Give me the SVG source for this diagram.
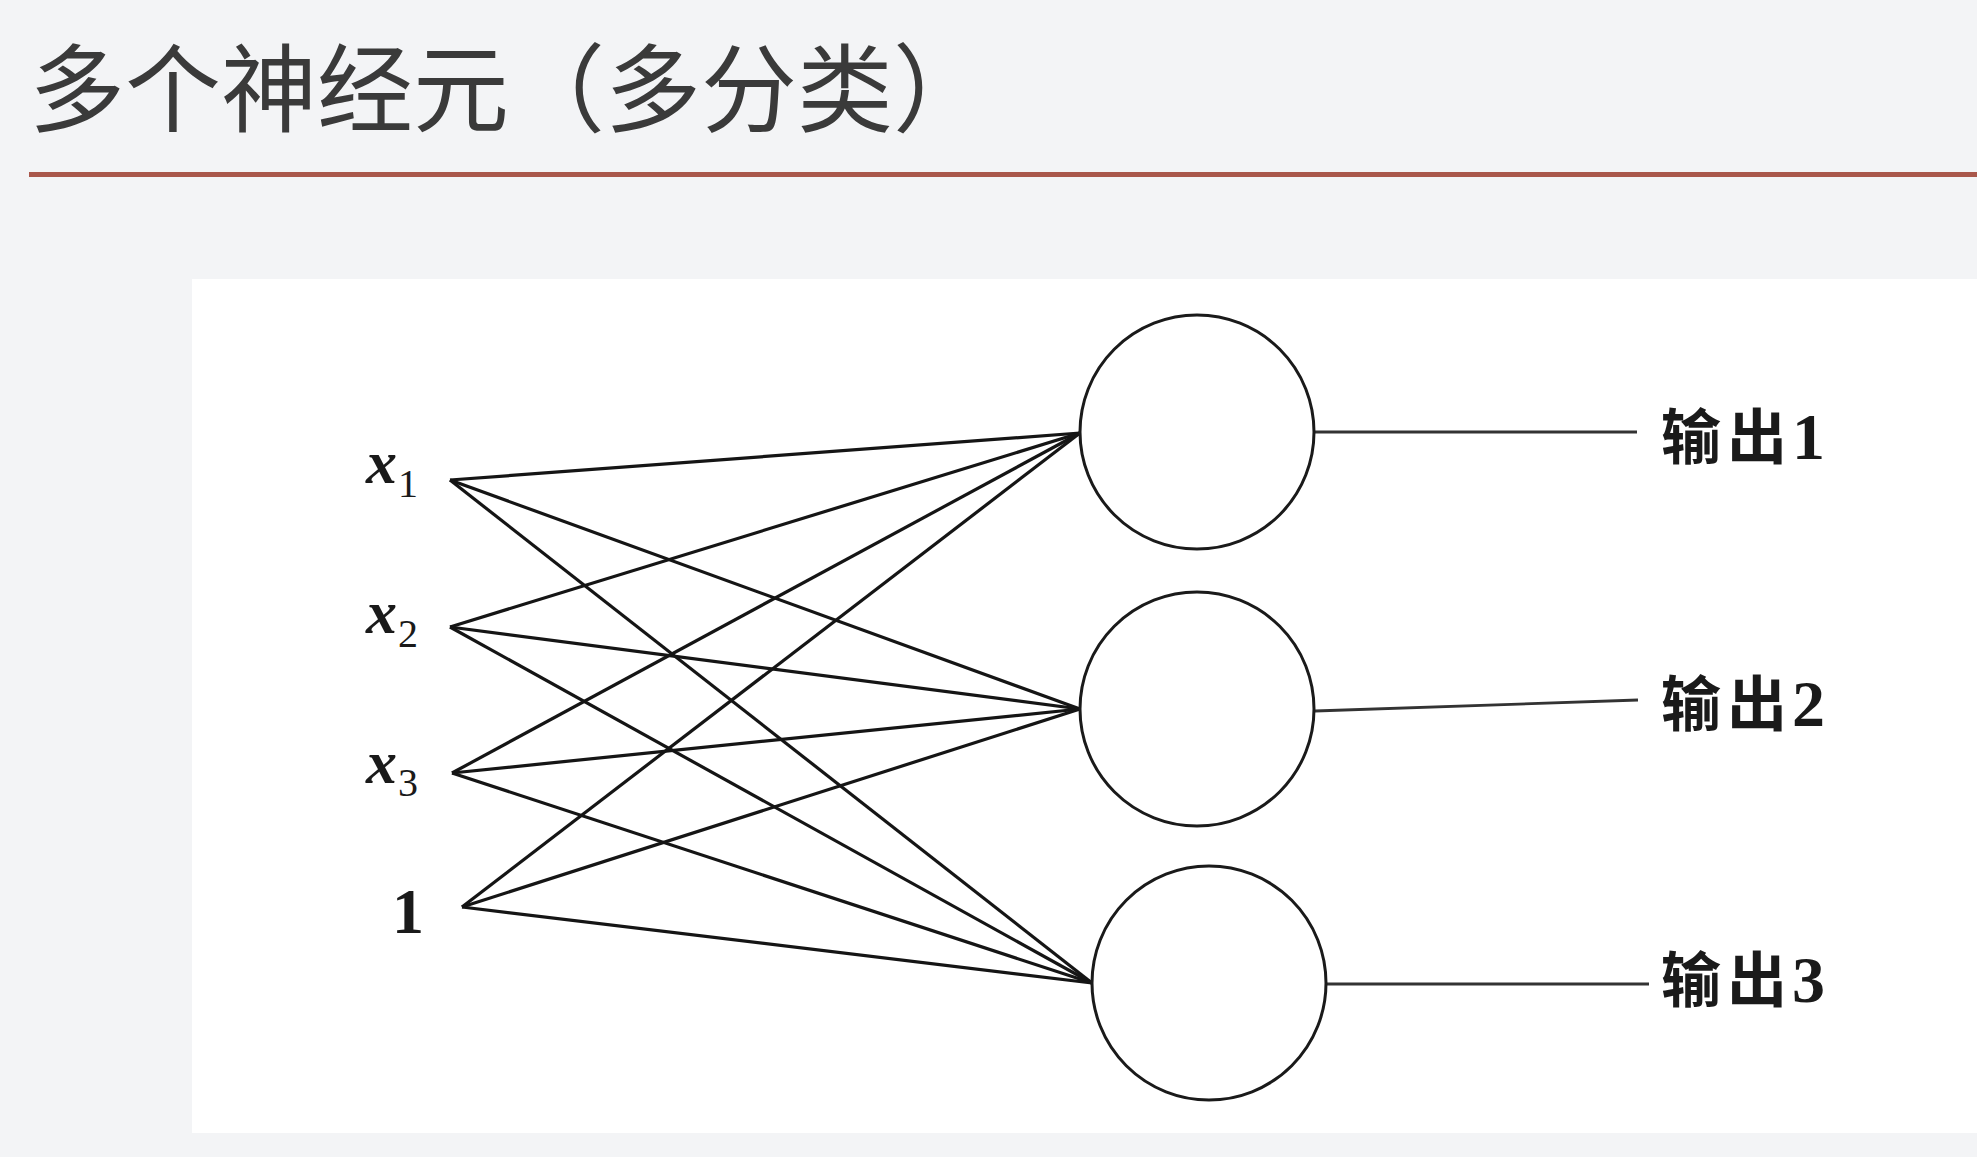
<svg xmlns="http://www.w3.org/2000/svg" width="1977" height="1157" viewBox="0 0 1977 1157">
<style>
.title{font-family:"Noto Sans CJK SC","Noto Sans",sans-serif;font-size:96px;fill:#3a3a3a}
.in{font-family:"Liberation Serif","Times New Roman",serif;fill:#1a1a1a}
.xi{font-size:62px;font-style:italic;font-weight:bold}
.sub{font-size:40px}
.out{font-family:"Liberation Serif","Noto Sans CJK SC",serif;font-size:66px;font-weight:bold;fill:#1a1a1a}
.cjk{font-family:"Noto Sans CJK SC",sans-serif;font-size:60px;font-weight:bold}
.node{fill:#fff;stroke:#1a1a1a;stroke-width:3}
.edge{stroke:#151515;stroke-width:3.2;fill:none}
.oline{stroke:#333;stroke-width:2.8;fill:none}
</style>
<rect x="0" y="0" width="1977" height="1157" fill="#f3f4f6"/>
<text class="title" x="29" y="124">多个神经元（多分类）</text>
<rect x="29" y="172" width="1948" height="5" fill="#a9574b"/>
<rect x="192" y="279" width="1785" height="854" fill="#ffffff"/>
<g id="connectors">
  <line class="edge" x1="450" y1="480" x2="1080" y2="433"/>
  <line class="edge" x1="450" y1="480" x2="1080" y2="709"/>
  <line class="edge" x1="450" y1="480" x2="1092" y2="983"/>
  <line class="edge" x1="450" y1="627" x2="1080" y2="433"/>
  <line class="edge" x1="450" y1="627" x2="1080" y2="709"/>
  <line class="edge" x1="450" y1="627" x2="1092" y2="983"/>
  <line class="edge" x1="452" y1="773" x2="1080" y2="433"/>
  <line class="edge" x1="452" y1="773" x2="1080" y2="709"/>
  <line class="edge" x1="452" y1="773" x2="1092" y2="983"/>
  <line class="edge" x1="462" y1="907" x2="1080" y2="433"/>
  <line class="edge" x1="462" y1="907" x2="1080" y2="709"/>
  <line class="edge" x1="462" y1="907" x2="1092" y2="983"/>
  <line class="oline" x1="1315" y1="432" x2="1637" y2="432"/>
  <line class="oline" x1="1315" y1="711" x2="1638" y2="700"/>
  <line class="oline" x1="1327" y1="984" x2="1649" y2="984"/>
</g>
<g id="in-x1"><text class="in" x="366" y="483"><tspan class="xi">x</tspan><tspan class="sub" x="398" y="497">1</tspan></text></g>
<g id="in-x2"><text class="in" x="366" y="633"><tspan class="xi">x</tspan><tspan class="sub" x="398" y="647">2</tspan></text></g>
<g id="in-x3"><text class="in" x="366" y="783"><tspan class="xi">x</tspan><tspan class="sub" x="398" y="796">3</tspan></text></g>
<g id="in-bias"><text class="in" x="392" y="933" font-size="64" font-weight="bold">1</text></g>
<g id="neuron-1"><circle class="node" cx="1197" cy="432" r="117"/></g>
<g id="neuron-2"><circle class="node" cx="1197" cy="709" r="117"/></g>
<g id="neuron-3"><circle class="node" cx="1209" cy="983" r="117"/></g>
<g id="out-1"><text class="out" y="459"><tspan class="cjk" x="1661">输</tspan><tspan class="cjk" x="1727">出</tspan><tspan x="1792">1</tspan></text></g>
<g id="out-2"><text class="out" y="726"><tspan class="cjk" x="1661">输</tspan><tspan class="cjk" x="1727">出</tspan><tspan x="1792">2</tspan></text></g>
<g id="out-3"><text class="out" y="1002"><tspan class="cjk" x="1661">输</tspan><tspan class="cjk" x="1727">出</tspan><tspan x="1792">3</tspan></text></g>
</svg>
